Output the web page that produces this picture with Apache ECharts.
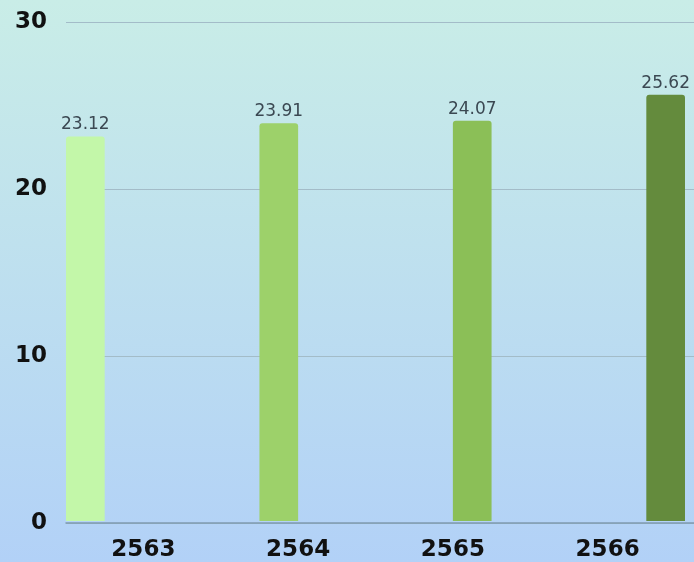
<!DOCTYPE html>
<html>
<head>
<meta charset="utf-8">
<script src="https://cdn.jsdelivr.net/npm/echarts@6/dist/echarts.min.js"></script>
<style>
  html, body { margin: 0; padding: 0; }
  #chart { width: 694px; height: 562px; }
</style>
</head>
<body>
<div id="chart"></div>
<script>
// Yearly values (Buddhist Era years)
const categories = ['2563', '2564', '2565', '2566'];
const values = [23.12, 23.91, 24.07, 25.62];
const barColors = ['#c3f7a9', '#9dd16a', '#8bbf57', '#648b3d'];
const yTicks = { min: 0, max: 30, interval: 10 };

const chart = echarts.init(document.getElementById('chart'));

// One series per year so each bar takes its own slot in the group
const barSeries = values.map((v, i) => ({
  type: 'bar',
  name: categories[i],
  xAxisIndex: 0,
  yAxisIndex: 0,
  barGap: '0%',
  barCategoryGap: '0%',
  data: categories.map((c, j) => (j === i ? v : '-')),
  itemStyle: { color: barColors[i], borderRadius: [3, 3, 0, 0] },
  label: {
    show: true,
    position: 'top',
    distance: 3,
    color: '#3b4852',
    fontSize: 17,
    fontFamily: '"DejaVu Sans", sans-serif',
    formatter: p => p.value.toFixed(2)
  }
}));

const axisFont = {
  color: '#111', fontSize: 23, fontWeight: 'bold',
  fontFamily: '"DejaVu Sans", sans-serif'
};

const option = {
  animation: false,
  backgroundColor: {
    type: 'linear', x: 0, y: 0, x2: 0, y2: 1,
    colorStops: [
      { offset: 0, color: '#c9ede7' },
      { offset: 1, color: '#b2d1f7' }
    ]
  },
  grid: [
    { left: 66, right: 9, top: 22, bottom: 39 },
    { left: 66, right: 0, top: 22, bottom: 39 }
  ],
  xAxis: [
    {
      type: 'category', gridIndex: 0, data: categories,
      axisLine: { show: false }, axisTick: { show: false },
      axisLabel: { margin: 18, ...axisFont }
    },
    {
      type: 'category', gridIndex: 1, data: categories,
      axisLine: { show: true, lineStyle: { color: '#7f9bb0', width: 1.5 } },
      axisTick: { show: false }, axisLabel: { show: false }
    }
  ],
  yAxis: [
    {
      type: 'value', gridIndex: 0, ...yTicks,
      axisLabel: { show: false }, splitLine: { show: false },
      axisLine: { show: false }, axisTick: { show: false }
    },
    {
      type: 'value', gridIndex: 1, ...yTicks,
      axisLine: { show: false }, axisTick: { show: false },
      splitLine: { lineStyle: { color: '#a3bcc8', width: 1 } },
      axisLabel: { margin: 19, ...axisFont }
    }
  ],
  series: barSeries
};

chart.setOption(option);
</script>
</body>
</html>
